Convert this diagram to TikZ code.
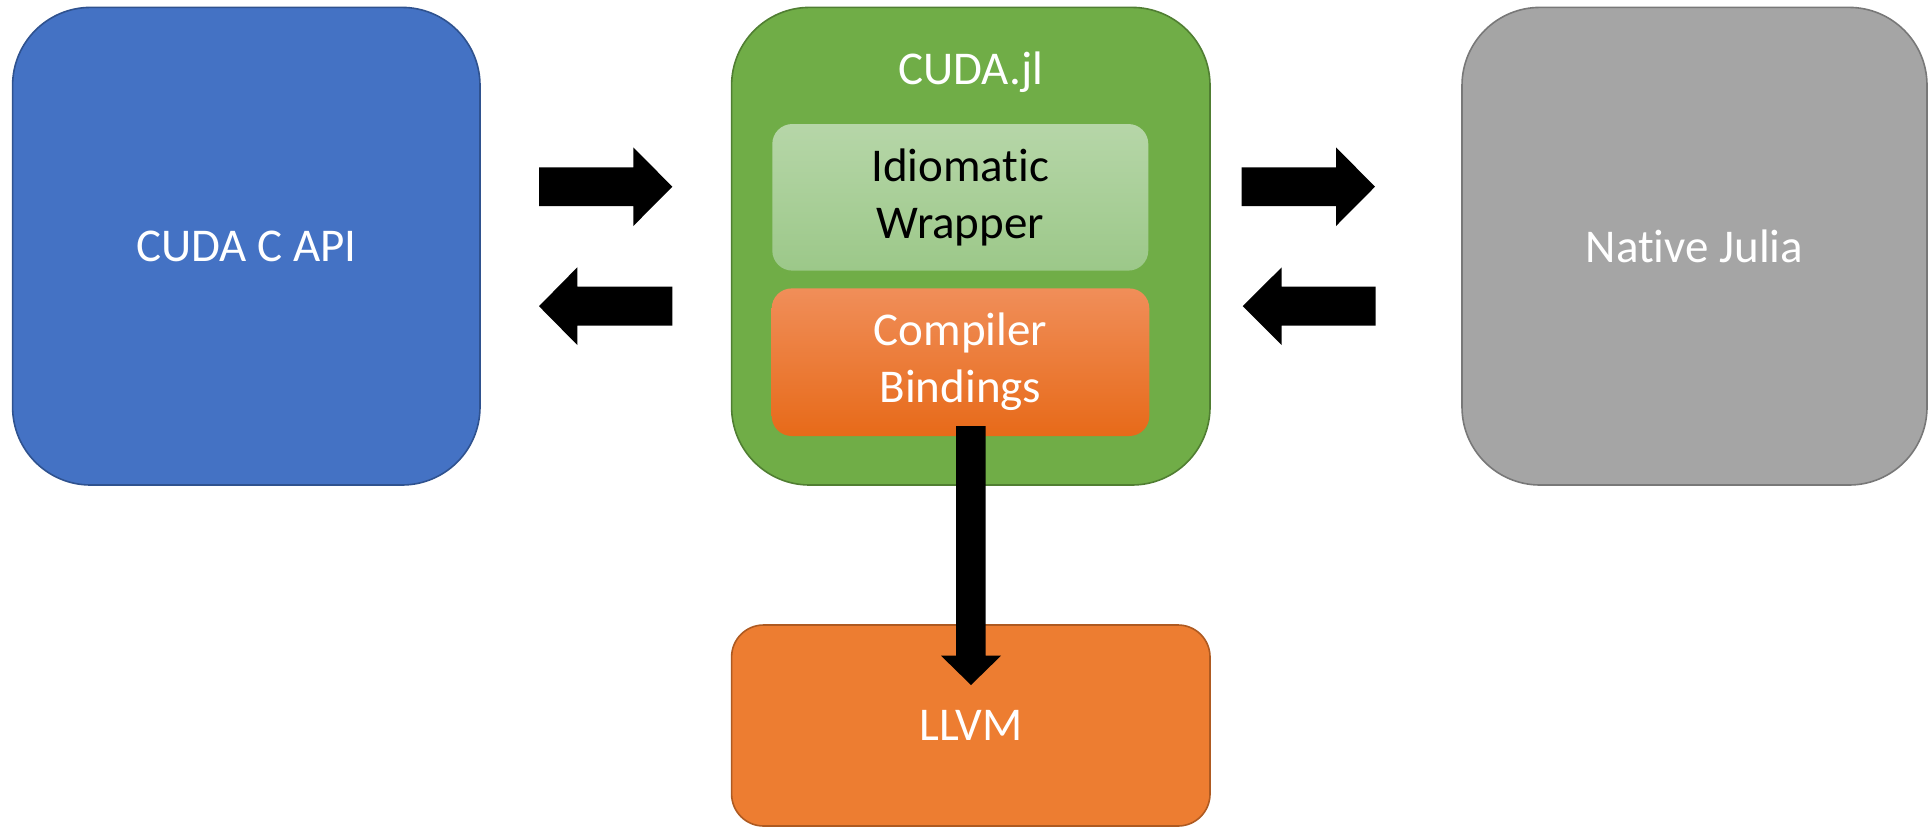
\documentclass[tikz,border=0pt]{standalone}
\usepackage{fontspec}
\setmainfont{Carlito}[Ligatures={NoCommon,NoContextual},RawFeature={-liga;-clig;-calt;-dlig}]
\definecolor{bluefill}{HTML}{4472C4}
\definecolor{blueline}{HTML}{2F528F}
\definecolor{greenfill}{HTML}{70AD47}
\definecolor{greenline}{HTML}{507E32}
\definecolor{grayfill}{HTML}{A5A5A5}
\definecolor{grayline}{HTML}{787878}
\definecolor{orangefill}{HTML}{ED7D31}
\definecolor{orangeline}{HTML}{AE5A21}
\definecolor{lgtop}{HTML}{B6D6A8}
\definecolor{lgbot}{HTML}{9CC889}
\definecolor{ortop}{HTML}{F08E59}
\definecolor{ormid}{HTML}{F47C2A}
\definecolor{orbot}{HTML}{E76A19}
\tikzset{
  bigbox/.style={rectangle, rounded corners=39pt, line width=0.8pt, inner sep=0pt, outer sep=0pt,
    text=white, font=\fontsize{23.5}{28.5}\selectfont, align=center},
  innerbox/.style={rectangle, rounded corners=10pt, inner sep=0pt, outer sep=0pt,
    font=\fontsize{23.5}{28.5}\selectfont, align=center},
  blockarrow/.style={fill=black, draw=none}
}
\begin{document}
\begin{tikzpicture}[x=0.5pt,y=-0.5pt]
\useasboundingbox (0,0) rectangle (1928,826);
% main boxes
\node[bigbox, fill=bluefill, draw=blueline, minimum width=233.7pt, minimum height=238.8pt] (capi) at (246.3,246.2) {CUDA C API};
\node[bigbox, fill=greenfill, draw=greenline, minimum width=239.2pt, minimum height=238.8pt] (cudajl) at (970.8,246.2) {};
\node[bigbox, fill=grayfill, draw=grayline, minimum width=232.5pt, minimum height=238.8pt] (julia) at (1694.5,246.2) {Native Julia};
\node[bigbox, rounded corners=16pt, fill=orangefill, draw=orangeline, minimum width=239.2pt, minimum height=100.5pt] (llvm) at (970.8,725.5) {LLVM};
% label of CUDA.jl
\node[text=white, font=\fontsize{23.5}{28.5}\selectfont, inner sep=0pt] (cudajllabel) at (970.8,72) {CUDA.jl};
% inner boxes
\node[innerbox, top color=lgtop, bottom color=lgbot, minimum width=188pt, minimum height=73.3pt, text=black] (wrapper) at (960.3,197.3) {Idiomatic\\Wrapper};
\node[innerbox, top color=ortop, middle color=ormid, bottom color=orbot, minimum width=188.8pt, minimum height=73.8pt, text=white] (bindings) at (960.5,362.2) {Compiler\\Bindings};
% coordinates for block arrows
\coordinate (r1t) at (672.3,186.7);
\coordinate (l1t) at (539,306.2);
\coordinate (r2t) at (1375,186.7);
\coordinate (l2t) at (1242.7,306.2);
% right arrow CUDA C API -> CUDA.jl
\fill[blockarrow] (539,167.3) -- (633.3,167.3) -- (633.3,147.3) -- (r1t) -- (633.3,226) -- (633.3,206) -- (539,206) -- cycle;
% left arrow CUDA.jl -> CUDA C API
\fill[blockarrow] (l1t) -- (577.3,267.3) -- (577.3,286.7) -- (672.3,286.7) -- (672.3,325.7) -- (577.3,325.7) -- (577.3,345) -- cycle;
% right arrow CUDA.jl -> Native Julia
\fill[blockarrow] (1241.7,167.3) -- (1336,167.3) -- (1336,147.3) -- (r2t) -- (1336,226) -- (1336,206) -- (1241.7,206) -- cycle;
% left arrow Native Julia -> CUDA.jl
\fill[blockarrow] (l2t) -- (1281.7,267.3) -- (1281.7,286.7) -- (1375.7,286.7) -- (1375.7,325.7) -- (1281.7,325.7) -- (1281.7,345) -- cycle;
% down arrow Compiler Bindings -> LLVM
\coordinate (dtip) at (971,685);
\fill[blockarrow] (956,426) -- (985.7,426) -- (985.7,655.7) -- (1001,655.7) -- (dtip) -- (941,655.7) -- (956,655.7) -- cycle;
\end{tikzpicture}
\end{document}
